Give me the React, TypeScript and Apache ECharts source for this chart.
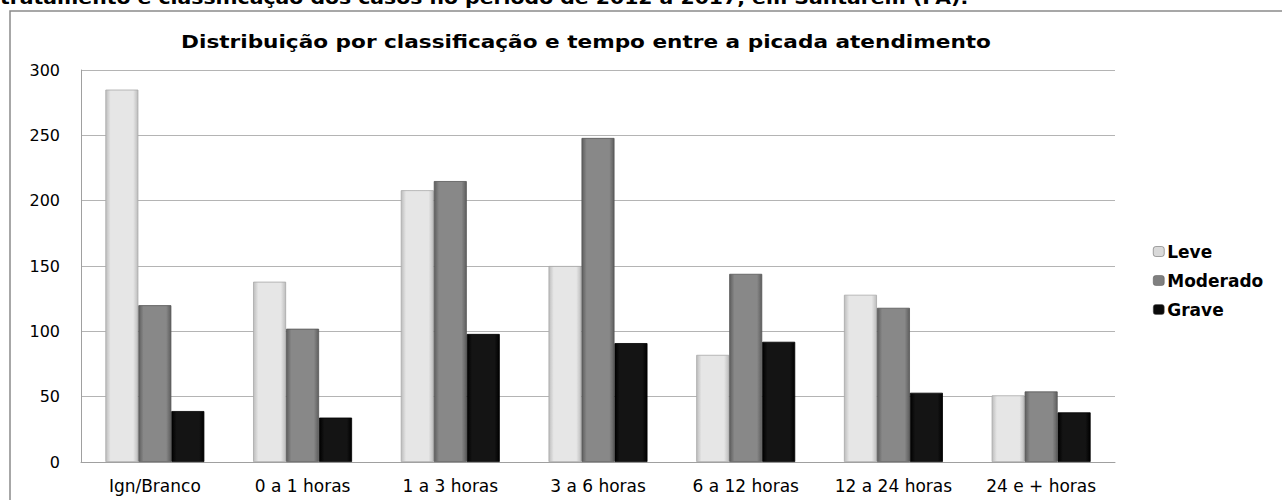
import React, { useEffect, useRef } from "react";
import * as echarts from "echarts";

const categories = ["Ign/Branco", "0 a 1 horas", "1 a 3 horas", "3 a 6 horas", "6 a 12 horas", "12 a 24 horas", "24 e + horas"];
const leve = [285, 138, 208, 150, 82, 128, 51];
const moderado = [120, 102, 215, 248, 144, 118, 54];
const grave = [39, 34, 98, 91, 92, 53, 38];
const seriesNames = ["Leve", "Moderado", "Grave"];
const yTicks = { min: 0, max: 300, interval: 50 };

const FONT = "DejaVu Sans";

function grad(edge: string, mid: string) {
  return new echarts.graphic.LinearGradient(0, 0, 1, 0, [
    { offset: 0, color: edge },
    { offset: 0.15, color: mid },
    { offset: 0.85, color: mid },
    { offset: 1, color: edge },
  ]);
}

export default function App() {
  const ref = useRef<HTMLDivElement>(null);
  useEffect(() => {
    if (!ref.current) return;
    const chart = echarts.init(ref.current, undefined, { renderer: "svg" });
    const colors = [
      { fill: grad("#bdbdbd", "#e6e6e6"), border: "#a8a8a8", legend: "#d9d9d9" },
      { fill: grad("#5e5e5e", "#888888"), border: "#555555", legend: "#7f7f7f" },
      { fill: grad("#000000", "#141414"), border: "#000000", legend: "#0a0a0a" },
    ];
    const data = [leve, moderado, grave];
    chart.setOption({
      animation: false,
      backgroundColor: "#ffffff",
      graphic: [
        {
          type: "text",
          x: 0,
          y: -10,
          scaleX: 1.2,
          style: {
            text: "tratamento e classificação dos casos no período de 2012 a 2017, em Santarém (PA).",
            font: `bold 17px ${FONT}`,
            fill: "#000",
          },
        },
        {
          type: "rect",
          shape: { x: 10, y: 11, width: 1300, height: 520 },
          style: { fill: "none", stroke: "#8a8a8a", lineWidth: 1.5 },
          silent: true,
        },
        {
          type: "text",
          x: 586,
          y: 42,
          scaleX: 1.2,
          style: {
            text: "Distribuição por classificação e tempo entre a picada atendimento",
            font: `bold 18px ${FONT}`,
            fill: "#000",
            align: "center",
            verticalAlign: "middle",
          },
        },
      ],
      legend: {
        orient: "vertical",
        left: 1148,
        top: 238,
        itemWidth: 11,
        itemHeight: 10,
        itemGap: 12,
        textStyle: { fontFamily: FONT, fontSize: 17, fontWeight: "bold", color: "#000", padding: [0, 0, 0, -2] },
        data: seriesNames.map((n, i) => ({ name: n, itemStyle: { color: colors[i].legend, borderColor: "#555", borderWidth: 0.5 } })),
      },
      grid: { left: 81, top: 70, right: 167, bottom: 38 },
      xAxis: {
        type: "category",
        data: categories,
        axisTick: { show: false },
        axisLine: { lineStyle: { color: "#a0a0a0", width: 1 } },
        axisLabel: { fontFamily: FONT, fontSize: 17, color: "#000", margin: 15, interval: 0 },
      },
      yAxis: {
        type: "value",
        min: yTicks.min,
        max: yTicks.max,
        interval: yTicks.interval,
        axisLine: { show: true, lineStyle: { color: "#a0a0a0" } },
        axisTick: { show: false },
        splitLine: { lineStyle: { color: "#b4b4b4", width: 1 } },
        axisLabel: { fontFamily: FONT, fontSize: 16, color: "#000", margin: 21 },
      },
      series: seriesNames.map((n, i) => ({
        name: n,
        type: "bar",
        data: data[i],
        barGap: "0%",
        barCategoryGap: "33%",
        itemStyle: { color: colors[i].fill, borderColor: colors[i].border, borderWidth: 0.8 },
      })),
    });
    return () => chart.dispose();
  }, []);
  return <div ref={ref} style={{ position: "fixed", left: 0, top: 0, width: 1282, height: 500 }} />;
}
